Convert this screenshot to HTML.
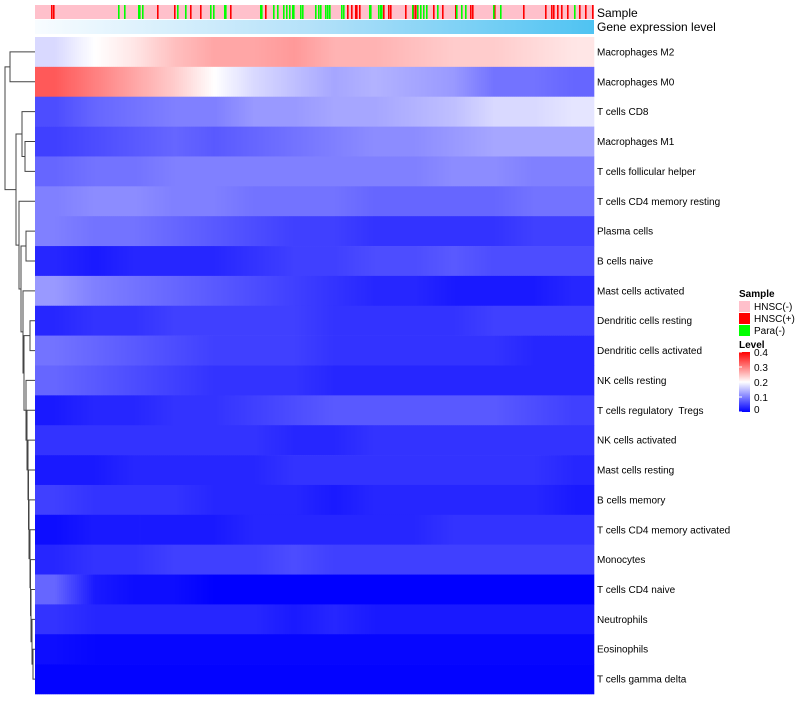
<!DOCTYPE html>
<html><head><meta charset="utf-8"><style>
body{margin:0;background:#fff;width:800px;height:700px;overflow:hidden;font-family:"Liberation Sans",sans-serif}
svg text{font-family:"Liberation Sans",sans-serif;white-space:pre}
</style></head><body>
<svg id="chart" width="800" height="700" xmlns="http://www.w3.org/2000/svg">
<defs>
<linearGradient id="geneGrad" x1="0" x2="1" y1="0" y2="0"><stop offset="0" stop-color="#f8fcff"/><stop offset="0.5" stop-color="#b3e1f9"/><stop offset="1" stop-color="#4fc3f2"/></linearGradient>
<linearGradient id="levelGrad" x1="0" x2="0" y1="1" y2="0"><stop offset="0" stop-color="#0000ff"/><stop offset="0.5" stop-color="#ffffff"/><stop offset="1" stop-color="#ff0000"/></linearGradient>
</defs>
<g id="annotG"></g>
<g id="heatG"></g>
<g id="dendroG"></g>
<g id="labelsG"></g>
<g id="legend">
<text x="739" y="297" font-size="10" font-weight="bold">Sample</text>
<rect x="739" y="301" width="11" height="11" fill="#ffc0cb"/>
<text x="754" y="310" font-size="10">HNSC(-)</text>
<rect x="739" y="313" width="11" height="11" fill="#ff0000"/>
<text x="754" y="322" font-size="10">HNSC(+)</text>
<rect x="739" y="325" width="11" height="11" fill="#00ff00"/>
<text x="754" y="334" font-size="10">Para(-)</text>
<text x="739" y="348" font-size="10" font-weight="bold">Level</text>
<rect x="739" y="352" width="11" height="60" fill="url(#levelGrad)"/>
<g id="levelTicksG"></g>
</g>
</svg>
<script>
const rowNames=["Macrophages M2","Macrophages M0","T cells CD8","Macrophages M1","T cells follicular helper","T cells CD4 memory resting","Plasma cells","B cells naive","Mast cells activated","Dendritic cells resting","Dendritic cells activated","NK cells resting","T cells regulatory  Tregs","NK cells activated","Mast cells resting","B cells memory","T cells CD4 memory activated","Monocytes","T cells CD4 naive","Neutrophils","Eosinophils","T cells gamma delta"];
const rowM2=[0.17,0.2,0.22,0.25,0.27,0.27,0.28,0.26,0.26,0.25,0.24,0.24,0.23,0.22];
const rowM0=[0.33,0.3,0.27,0.24,0.2,0.17,0.15,0.13,0.14,0.13,0.12,0.09,0.09,0.08];
const rowCD8=[0.06,0.08,0.09,0.1,0.1,0.12,0.12,0.13,0.13,0.14,0.15,0.17,0.17,0.18];
const rowM1=[0.05,0.06,0.07,0.08,0.07,0.08,0.09,0.1,0.11,0.11,0.12,0.13,0.13,0.13];
const rowTfh=[0.08,0.09,0.09,0.1,0.1,0.1,0.1,0.1,0.1,0.1,0.11,0.11,0.1,0.1];
const rowCD4MemRest=[0.1,0.11,0.11,0.1,0.1,0.09,0.09,0.09,0.08,0.08,0.08,0.08,0.09,0.09];
const rowPlasma=[0.1,0.09,0.09,0.08,0.07,0.06,0.05,0.05,0.04,0.04,0.04,0.04,0.05,0.05];
const rowBNaive=[0.03,0.02,0.03,0.03,0.03,0.04,0.05,0.05,0.06,0.06,0.07,0.06,0.06,0.06];
const rowMastAct=[0.12,0.1,0.09,0.08,0.07,0.06,0.05,0.04,0.03,0.03,0.02,0.02,0.02,0.03];
const rowDCRest=[0.03,0.04,0.04,0.05,0.05,0.05,0.05,0.04,0.04,0.04,0.04,0.05,0.05,0.05];
const rowDCAct=[0.09,0.08,0.07,0.06,0.05,0.05,0.05,0.04,0.04,0.04,0.04,0.04,0.03,0.03];
const rowNKRest=[0.08,0.07,0.06,0.05,0.04,0.04,0.04,0.03,0.03,0.03,0.03,0.03,0.03,0.03];
const rowTregs=[0.02,0.03,0.03,0.04,0.04,0.05,0.06,0.07,0.07,0.07,0.07,0.07,0.06,0.05];
const rowNKAct=[0.04,0.04,0.04,0.04,0.04,0.04,0.03,0.03,0.04,0.04,0.04,0.04,0.04,0.04];
const rowMastRest=[0.02,0.02,0.03,0.03,0.03,0.03,0.04,0.04,0.04,0.04,0.04,0.04,0.04,0.03];
const rowBMem=[0.05,0.04,0.04,0.04,0.03,0.03,0.03,0.02,0.03,0.03,0.03,0.03,0.03,0.02];
const rowCD4MemAct=[0.01,0.02,0.02,0.02,0.02,0.03,0.03,0.03,0.03,0.03,0.04,0.04,0.04,0.04];
const rowMono=[0.03,0.04,0.04,0.05,0.05,0.05,0.06,0.05,0.05,0.05,0.05,0.05,0.05,0.05];
const rowCD4Naive=[0.08,0.02,0.01,0.01,0,0,0,0,0,0,0,0,0,0];
const rowNeut=[0.04,0.03,0.03,0.03,0.03,0.03,0.02,0.03,0.02,0.02,0.02,0.02,0.02,0.02];
const rowEos=[0.01,0.005,0.005,0.005,0.005,0.005,0.005,0.005,0.005,0.005,0.005,0.005,0.005,0.005];
const rowGD=[0.002,0.002,0.002,0.002,0.002,0.002,0.002,0.002,0.002,0.002,0.002,0.002,0.002,0.002];
const rowValues=[rowM2,rowM0,rowCD8,rowM1,rowTfh,rowCD4MemRest,rowPlasma,rowBNaive,rowMastAct,rowDCRest,rowDCAct,rowNKRest,rowTregs,rowNKAct,rowMastRest,rowBMem,rowCD4MemAct,rowMono,rowCD4Naive,rowNeut,rowEos,rowGD];
const levelTicks=[0,0.1,0.2,0.3,0.4];
const NSAMPLES=559;
// sample column indices (0..558) of HNSC(+) and Para(-) samples
const hnscPosSamples=[16,18,122,139,155,165,195,230,312,316,320,321,324,348,353,355,370,378,380,398,407,420,435,437,459,488,510,516,518,522,526,532,544,550,557];
const paraNegSamples=[83,89,103,104,107,142,150,175,178,189,190,225,226,238,242,248,251,254,257,258,265,267,280,283,285,290,292,294,306,308,334,335,343,345,346,377,382,385,388,391,402,421,426,430,458,465,539];

const NS='http://www.w3.org/2000/svg';
const X0=35,X1=594,Y0=37,Y1=694,NR=rowNames.length,RH=(Y1-Y0)/NR;
function xScale(idx){return X0+idx/NSAMPLES*(X1-X0);}
function yRow(i){return Y0+i*RH;}
function mk(tag,attrs,parent){const el=document.createElementNS(NS,tag);for(const k in attrs)el.setAttribute(k,attrs[k]);parent.appendChild(el);return el;}
function color(v){v=Math.max(0,Math.min(0.4,v));let r,g,b;
 if(v<=0.2){const t=v/0.2;r=255*t;g=255*t;b=255;}else{const t=(v-0.2)/0.2;r=255;g=255*(1-t);b=255*(1-t);}
 return 'rgb('+Math.round(r)+','+Math.round(g)+','+Math.round(b)+')';}

const annotG=document.getElementById('annotG');
let el0=mk('rect',{x:X0,y:5,width:X1-X0,height:14,fill:'#ffc0cb'},annotG);


hnscPosSamples.forEach(function(s){const r=mk('rect',{x:xScale(s),y:5,width:1.6,height:14,fill:'#ff0000'},annotG);
 
 });
paraNegSamples.forEach(function(s){const r=mk('rect',{x:xScale(s),y:5,width:1.6,height:14,fill:'#00ff00'},annotG);
 
 });
el0=mk('rect',{x:X0,y:20,width:X1-X0,height:14,fill:'url(#geneGrad)'},annotG);


el0=mk('text',{x:597,y:17,'font-size':12},annotG);el0.textContent='Sample';


el0=mk('text',{x:597,y:31,'font-size':12},annotG);el0.textContent='Gene expression level';



const heatG=document.getElementById('heatG');
const COLW=2;
rowValues.forEach(function(vals,i){
 const n=vals.length;
 for(let x=X0;x<X1;x+=COLW){
  const f=((x+COLW/2-X0)/(X1-X0))*n-0.5;
  const a=Math.max(0,Math.min(n-1,Math.floor(f))),b=Math.min(n-1,a+1),t=Math.max(0,Math.min(1,f-a));
  const v=vals[a]*(1-t)+vals[b]*t;
  const c=mk('rect',{x:x,y:yRow(i),width:Math.min(COLW,X1-x)+0.3,height:RH+0.3,fill:color(v)},heatG);
  
  
 }
});
const labelsG=document.getElementById('labelsG');
rowNames.forEach(function(nm,i){const t=mk('text',{x:597,y:yRow(i)+RH/2+3.5,'font-size':10},labelsG);t.textContent=nm;
 
 });

const ladder=[[33,20,21],[32,19],[31,18],[30.5,17],[30,16],[29,15],[28.5,14],[28,13],[27,12],[26,11],[24,{h:30,l:9,r:10}],[23,8],[21,{h:26,l:6,r:7}],[19,5]];
let sub={h:ladder[0][0],l:ladder[0][1],r:ladder[0][2]};
for(let k=1;k<ladder.length;k++){sub={h:ladder[k][0],l:ladder[k][1],r:sub};}
const treeRoot={h:5,l:{h:10,l:0,r:1},r:{h:16,l:{h:22,l:2,r:{h:25,l:3,r:4}},r:sub}};
const dendroG=document.getElementById('dendroG');
function drawNode(node){
 if(typeof node==='number')return {y:yRow(node)+RH/2,x:X0};
 const L=drawNode(node.l),R=drawNode(node.r);
 const p='M'+L.x+','+L.y+'H'+node.h+'V'+R.y+'H'+R.x;
 const ln=mk('path',{d:p,fill:'none',stroke:'#444','stroke-width':1},dendroG);
 
 
 return {y:(L.y+R.y)/2,x:node.h};
}
drawNode(treeRoot);

const ltG=document.getElementById('levelTicksG');
levelTicks.forEach(function(v){const y=412-v/0.4*60;
 const l=mk('line',{x1:739,x2:742,y1:y,y2:y,stroke:'#fff'},ltG);
 
 
 const t=mk('text',{x:754,y:Math.min(y+4,413),'font-size':10},ltG);t.textContent=(v===0?'0':v.toFixed(1));
 
 });
</script>
</body></html>
